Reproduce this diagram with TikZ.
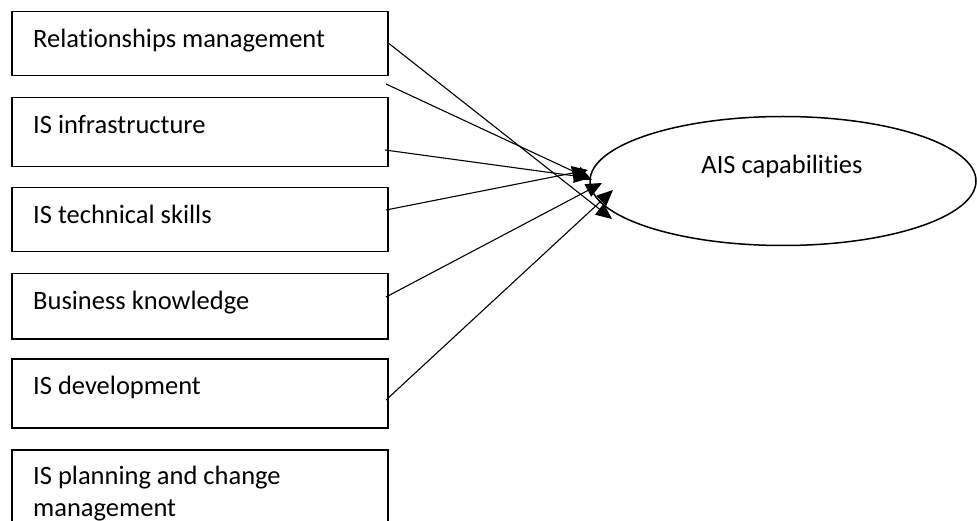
\documentclass[tikz,border=0pt]{standalone}
\usepackage{fontspec}
\setmainfont{Carlito}[Ligatures=NoCommon]
\usetikzlibrary{arrows.meta,shapes.geometric,calc}
\tikzset{
  box/.style={draw=black,line width=1.5pt,rectangle,minimum width=376pt,inner sep=0pt,anchor=north west},
  lbl/.style={anchor=base west,inner sep=0pt,font=\fontsize{26.5}{32.3}\selectfont,align=left},
  conn/.style={draw=black,line width=1.1pt,-{Triangle[length=16pt,width=14pt]}},
  oval/.style={draw=black,line width=1.5pt,ellipse,minimum width=386pt,minimum height=129pt,inner sep=0pt}
}
\begin{document}
\begin{tikzpicture}[x=1pt,y=-1pt]
\useasboundingbox (0,0) rectangle (977,521);
\clip (0,0) rectangle (977,521);
\node[box,minimum height=64pt] (b1) at (11,11) {};
\node[box,minimum height=69pt] (b2) at (11,97) {};
\node[box,minimum height=64pt] (b3) at (11,187) {};
\node[box,minimum height=65pt] (b4) at (11,273) {};
\node[box,minimum height=69pt] (b5) at (11,358) {};
\node[box,minimum height=100pt] (b6) at (11,449) {};
\node[lbl] (t1) at (33,47.5) {Relationships management};
\node[lbl] (t2) at (33,133.5) {IS infrastructure};
\node[lbl] (t3) at (33,223.5) {IS technical skills};
\node[lbl] (t4) at (33,309.5) {Business knowledge};
\node[lbl] (t5) at (33,394.5) {IS development};
\node[lbl] (t6) at (33,516.5) {IS planning and change\\management};
\node[oval] (ais) at (783,181) {};
\node[anchor=base,inner sep=0pt,font=\fontsize{26.5}{32}\selectfont] (aist) at (782,174) {AIS capabilities};
\coordinate (s1) at (387,42);
\coordinate (s2) at (386,84);
\coordinate (s3) at (385,150);
\coordinate (s4) at (386,210);
\coordinate (s5) at (386,297);
\coordinate (s6) at (386,400);
\coordinate (e1) at (612,219);
\coordinate (e2) at (592,180);
\coordinate (e3) at (590,178);
\coordinate (e4) at (588,170);
\coordinate (e5) at (602,183);
\coordinate (e6) at (613,190);
\draw[conn] (s1) -- (e1);
\draw[conn] (s2) -- (e2);
\draw[conn] (s3) -- (e3);
\draw[conn] (s4) -- (e4);
\draw[conn] (s5) -- (e5);
\draw[conn] (s6) -- (e6);
\end{tikzpicture}
\end{document}
